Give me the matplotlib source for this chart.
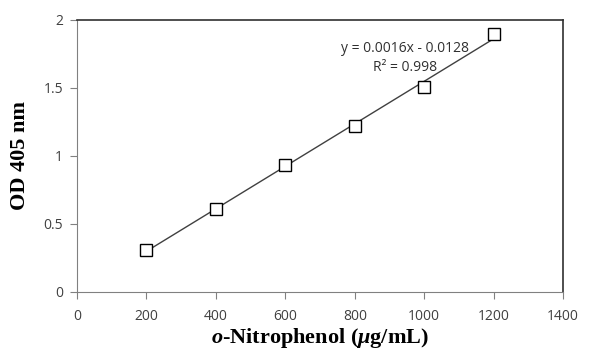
import numpy as np
import matplotlib.pyplot as plt

plt.rcParams['mathtext.fontset'] = 'custom'
plt.rcParams['mathtext.rm'] = 'Liberation Serif:bold'
plt.rcParams['mathtext.it'] = 'Liberation Serif:italic:bold'
plt.rcParams['mathtext.bf'] = 'Liberation Serif:bold'

conc = [200, 400, 600, 800, 1000, 1200]
od = [0.31, 0.61, 0.93, 1.22, 1.51, 1.90]
xticks = [0, 200, 400, 600, 800, 1000, 1200, 1400]
yticks = [0, 0.5, 1, 1.5, 2]
yticklabels = ['0', '0.5', '1', '1.5', '2']

fig = plt.figure(figsize=(6.01, 3.56), dpi=100)
ax = fig.add_axes([0.128, 0.180, 0.809, 0.764])

slope, icept = np.polyfit(conc, od, 1)
fit_x = np.array([conc[0], conc[-1]])
ax.plot(fit_x, slope * fit_x + icept, color='#404040', lw=1.0, zorder=1)
ax.plot(conc, od, ls='none', marker='s', ms=8.5, mfc='white', mec='black', mew=1.0, zorder=2)

ax.text(945, 1.79, 'y = 0.0016x - 0.0128', ha='center', va='center',
        fontsize=10, family='Open Sans', color='#303030')
ax.text(945, 1.65, 'R\u00b2 = 0.998', ha='center', va='center',
        fontsize=10, family='Open Sans', color='#303030')

ax.set_xlim(0, 1400)
ax.set_ylim(0, 2)
ax.set_xticks(xticks)
ax.set_yticks(yticks)
ax.set_yticklabels(yticklabels)
for lab in ax.get_xticklabels() + ax.get_yticklabels():
    lab.set_family('Open Sans')
    lab.set_fontsize(10)
    lab.set_color('#404040')
ax.tick_params(direction='out', length=5, width=0.8, color='#808080', pad=5)
ax.tick_params(axis='x', pad=7)

for side in ['left', 'bottom']:
    ax.spines[side].set_color('#808080')
for side in ['top', 'right']:
    ax.spines[side].set_color('#303030')
    ax.spines[side].set_linewidth(1.2)

ax.set_xlabel(r'$o$-Nitrophenol ($\mu$g/mL)', family='Liberation Serif',
              fontweight='bold', fontsize=16, labelpad=2)
ax.set_ylabel('OD 405 nm', family='Liberation Serif', fontweight='bold',
              fontsize=16, labelpad=10)

fig.savefig('out.png', dpi=100)
